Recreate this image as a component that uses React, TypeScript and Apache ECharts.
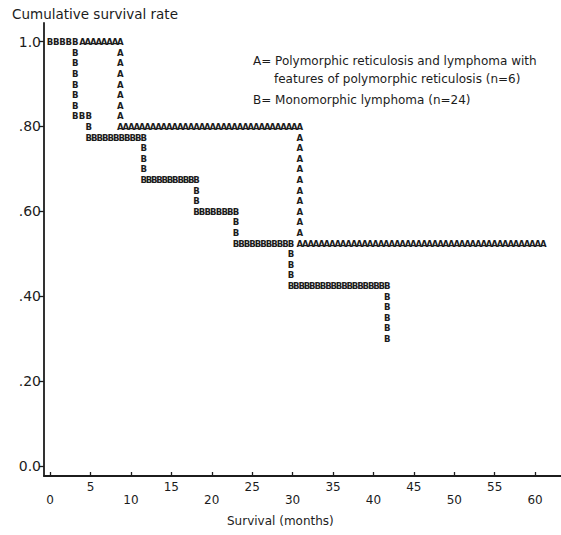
import React, { useEffect, useRef } from "react";
import * as echarts from "echarts";

// ---- Data ----
const xTickValues = [0, 5, 10, 15, 20, 25, 30, 35, 40, 45, 50, 55, 60];
const xLabelsLower = [0, 10, 20, 30, 40, 50, 60];
const xLabelsUpper = [5, 15, 25, 35, 45, 55];
const yTickValues = [0, 0.2, 0.4, 0.6, 0.8, 1.0];
const yTickLabels = ["0.0", ".20", ".40", ".60", ".80", "1.0"];

// Series A: Polymorphic reticulosis ... (n=6) — step change times and survival levels
const monthsA = [0, 8.7, 30.9];
const survivalA = [1.0, 0.8, 0.525];
const endA = 61.0;

// Series B: Monomorphic lymphoma (n=24)
const monthsB = [0, 3.1, 4.8, 11.6, 18.1, 23.0, 29.8, 41.7];
const survivalB = [1.0, 0.825, 0.775, 0.675, 0.6, 0.525, 0.425, 0.3];
const endB = 41.7;

const titleText = "Cumulative survival rate";
const legendA1 = "A= Polymorphic reticulosis and lymphoma with";
const legendA2 = "features of polymorphic reticulosis (n=6)";
const legendB = "B= Monomorphic lymphoma (n=24)";
const xName = "Survival (months)";

// ---- rendering constants ----
const ROW = 0.025; // vertical character-grid resolution of the printer plot
const LETTER_STEP = 5.4; // px between letters along a horizontal run
const FONT = "DejaVu Sans";
const INK = "#1c1c1c";

function segments(months: number[], surv: number[], end: number) {
  return months.map((t, i) => [
    t,
    i + 1 < months.length ? months[i + 1] : end,
    surv[i],
    i + 1 < surv.length ? surv[i + 1] : surv[i],
  ]);
}

const segA = segments(monthsA, survivalA, endA);
const segB = segments(monthsB, survivalB, endB);

// where both curves share a printing cell, B is printed
function coveredByB(t: number, v: number) {
  for (const s of segB) {
    if (Math.abs(s[2] - v) < 1e-6 && t >= s[0] - 0.4 && t <= s[1] + 0.4) return true;
  }
  return false;
}

function makeRenderItem(letter: string, skip: boolean) {
  return (params: any, api: any) => {
    const t0 = api.value(0);
    const t1 = api.value(1);
    const v = api.value(2);
    const vNext = api.value(3);
    const p0 = api.coord([t0, v]);
    const p1 = api.coord([t1, v]);
    const children: any[] = [];
    const style = {
      text: letter,
      fill: INK,
      fontFamily: "DejaVu Sans Condensed",
      fontWeight: "bold",
      fontSize: 9.5,
      align: "center",
      verticalAlign: "middle",
    };
    const hLen = p1[0] - p0[0];
    const n = Math.max(0, Math.floor(hLen / LETTER_STEP + 0.3));
    for (let j = 0; j <= n; j++) {
      const f = n === 0 ? 0 : j / n;
      const t = t0 + (t1 - t0) * f;
      if (skip && coveredByB(t, v)) continue;
      children.push({ type: "text", x: p0[0] + hLen * f, y: p0[1], style });
    }
    const rowPx = api.size([0, ROW])[1];
    const rows = Math.round((v - vNext) / ROW);
    for (let k = 1; k < rows; k++) {
      children.push({ type: "text", x: p1[0], y: p1[1] + k * rowPx, style });
    }
    return { type: "group", children };
  };
}

export default function App() {
  const ref = useRef<HTMLDivElement>(null);
  useEffect(() => {
    if (!ref.current) return;
    const chart = echarts.init(ref.current, null, { renderer: "svg" });
    const labelStyle = { color: INK, fontFamily: FONT, fontSize: 12 };
    chart.setOption({
      animation: false,
      backgroundColor: "#ffffff",
      grid: { left: 44, right: 0, top: 23, bottom: 59, containLabel: false },
      xAxis: [
        {
          type: "value",
          min: -0.75,
          max: 63.2,
          position: "bottom",
          axisLine: { show: true, onZero: false, lineStyle: { color: INK, width: 1.8 } },
          axisTick: { show: true, inside: true, length: 4, customValues: xTickValues, lineStyle: { color: INK, width: 1.3 } },
          axisLabel: { ...labelStyle, customValues: xLabelsLower, margin: 18 },
          splitLine: { show: false },
        },
        {
          type: "value",
          min: -0.75,
          max: 63.2,
          position: "bottom",
          axisLine: { show: false },
          axisTick: { show: false },
          axisLabel: { ...labelStyle, customValues: xLabelsUpper, margin: 5 },
          splitLine: { show: false },
        },
      ],
      yAxis: {
        type: "value",
        min: -0.024,
        max: 1.044,
        axisLine: { show: true, onZero: false, lineStyle: { color: INK, width: 1.8 } },
        axisTick: { show: true, inside: false, length: 5, customValues: yTickValues, lineStyle: { color: INK, width: 1.3 } },
        axisLabel: {
          ...labelStyle,
          fontSize: 14,
          margin: 3,
          customValues: yTickValues,
          formatter: (v: number) => {
            const i = yTickValues.findIndex((y) => Math.abs(y - v) < 1e-9);
            return i >= 0 ? yTickLabels[i] : "";
          },
        },
        splitLine: { show: false },
      },
      series: [
        {
          type: "custom",
          name: "A",
          xAxisIndex: 0,
          clip: false,
          encode: { x: [0, 1], y: [2, 3] },
          renderItem: makeRenderItem("A", true),
          data: segA,
          z: 2,
        },
        {
          type: "custom",
          name: "B",
          xAxisIndex: 0,
          clip: false,
          encode: { x: [0, 1], y: [2, 3] },
          renderItem: makeRenderItem("B", false),
          data: segB,
          z: 3,
        },
      ],
      graphic: [
        { type: "text", left: 12, top: 7, style: { text: titleText, fill: INK, font: `13.5px ${FONT}` } },
        { type: "text", left: 253, top: 55, style: { text: legendA1, fill: INK, font: `12px ${FONT}` } },
        { type: "text", left: 274, top: 73, style: { text: legendA2, fill: INK, font: `12px ${FONT}` } },
        { type: "text", left: 253, top: 94, style: { text: legendB, fill: INK, font: `12px ${FONT}` } },
        { type: "text", left: 227, top: 515, style: { text: xName, fill: INK, font: `12px ${FONT}` } },
      ],
    });
    return () => chart.dispose();
  }, []);
  return (
    <div
      ref={ref}
      style={{ position: "absolute", left: 0, top: 0, width: 561, height: 535, background: "#fff" }}
    />
  );
}
